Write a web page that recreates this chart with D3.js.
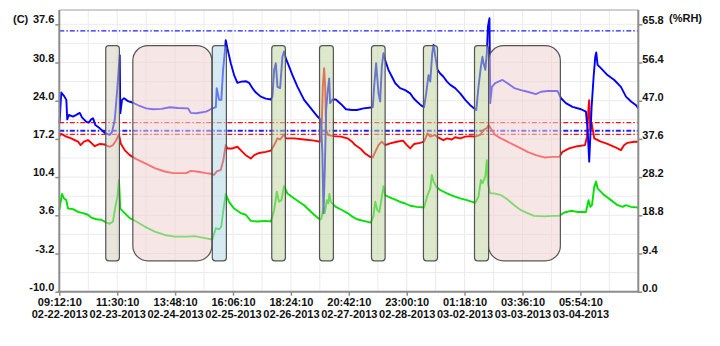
<!DOCTYPE html>
<html><head><meta charset="utf-8">
<script src="https://cdn.jsdelivr.net/npm/d3@7"></script>
<style>
html,body{margin:0;padding:0;background:#fff;}
svg{display:block;font-family:"Liberation Sans",Arial,sans-serif;}
</style></head><body>
<svg id="chart" width="720" height="346"></svg>
<script>
// ---------- DATA ----------
const startTime = Date.UTC(2013, 1, 22, 9, 12, 10);
const spanHours = 263;
const xTickHours = [0, 26.3, 52.6, 78.9, 105.2, 131.5, 157.8, 184.1, 210.4, 236.7];
const tempTicks = [-10.0, -3.2, 3.6, 10.4, 17.2, 24.0, 30.8, 37.6];
const rhTicks = [0.0, 9.4, 18.8, 28.2, 37.6, 47.0, 56.4, 65.8];
const tempAlarms = [20.1, 18.0];
const rhAlarms = [64.2, 39.6];

// [hours since start, value]
const rhSeries = [[0.1,41.4],[0.9,49.0],[2.1,48.2],[3.2,47.2],[3.6,42.4],[4.4,43.5],[6.2,43.1],[7.7,43.5],[9.3,44.0],[10.3,42.9],[12.3,41.8],[13.4,41.6],[14.5,42.4],[15.3,42.7],[16.4,41.0],[18.4,40.2],[20.6,39.1],[22.9,38.6],[24.0,39.4],[25.2,42.3],[26.4,50.4],[27.45,58.2],[27.7,43.9],[28.5,47.2],[29.4,47.6],[31.2,46.9],[33.5,46.5],[36.5,45.7],[39.5,45.1],[42.6,44.9],[46.4,45.0],[50.2,45.4],[53.9,45.2],[58.5,45.1],[59.7,44.0],[62.3,43.9],[66.7,44.3],[68.8,44.9],[71.1,45.4],[71.5,50.1],[72.6,47.2],[73.6,47.2],[74.4,54.6],[75.2,59.1],[75.6,61.9],[76.35,59.9],[77.9,56.2],[79.4,53.3],[80.9,51.4],[82.7,51.7],[84.7,51.8],[86.2,51.4],[87.7,50.1],[89.3,49.0],[91.5,48.0],[93.8,47.5],[96.1,47.3],[96.8,48.0],[97.6,54.6],[98.35,56.2],[99.1,50.4],[100.3,50.1],[101.35,57.8],[102.1,59.1],[102.9,57.4],[104.4,55.4],[105.9,53.3],[108.2,50.4],[111.2,47.2],[114.3,45.1],[117.3,43.1],[118.8,42.3],[119.5,34.1],[120.0,19.3],[120.6,29.9],[121.2,44.7],[121.8,48.8],[122.6,52.5],[123.0,46.4],[124.1,47.3],[125.6,47.3],[127.9,46.2],[130.2,44.9],[133.0,44.7],[135.2,44.7],[138.2,45.1],[142.4,45.4],[143.0,50.4],[143.9,56.2],[145.0,48.8],[145.75,46.8],[146.5,55.4],[147.25,58.7],[148.0,57.0],[149.5,54.6],[151.1,52.9],[152.6,51.3],[154.8,50.1],[157.1,49.6],[159.4,48.8],[160.9,47.6],[162.4,46.8],[164.2,45.9],[165.7,45.4],[166.65,48.8],[167.7,53.3],[168.5,51.7],[169.4,58.7],[170.0,60.7],[170.7,58.2],[171.8,54.6],[173.0,53.7],[174.5,52.9],[176.1,51.7],[177.6,50.9],[179.8,50.1],[182.1,48.8],[184.4,47.2],[186.65,45.9],[188.5,45.1],[189.4,44.7],[190.4,50.4],[191.5,55.4],[192.2,57.8],[192.7,56.2],[193.5,54.6],[194.2,58.7],[194.7,65.2],[195.4,67.3],[195.75,46.4],[196.5,50.4],[198.0,51.3],[201.3,52.1],[203.6,51.3],[206.65,50.1],[209.7,49.6],[212.7,49.2],[216.5,48.6],[218.8,49.2],[221.8,49.4],[226.3,49.4],[227.9,47.6],[230.1,46.4],[233.1,45.5],[237.0,44.9],[239.2,44.3],[240.0,39.8],[240.7,32.0],[241.2,38.1],[241.8,45.5],[242.7,52.9],[243.45,57.8],[243.9,58.9],[244.5,55.8],[246.0,55.0],[249.0,53.3],[252.1,52.1],[255.1,50.4],[257.4,48.0],[259.7,46.8],[262.0,45.9],[263.0,45.1]];

const tempSeries = [[0,17.6],[0.6,18.1],[1.7,17.9],[3.2,17.6],[5.45,17.3],[7.0,17.0],[8.5,16.7],[9.7,16.1],[11.2,16.7],[13.0,17.0],[14.5,16.5],[16.1,15.9],[18.4,16.3],[20.6,16.2],[22.9,15.8],[24.4,16.1],[25.9,17.0],[27.1,18.0],[27.9,16.4],[29.7,15.2],[32.0,14.3],[35.0,13.6],[38.8,12.9],[43.4,12.0],[47.9,11.4],[51.7,11.1],[57.7,11.1],[59.7,11.5],[62.3,11.4],[66.7,11.1],[68.8,11.0],[70.3,10.8],[71.5,11.4],[73.35,11.7],[74.5,13.4],[75.6,16.1],[76.35,15.5],[78.6,15.5],[80.9,15.8],[82.4,15.2],[84.7,14.3],[87.0,13.7],[88.5,14.3],[90.8,14.7],[93.8,14.9],[96.1,15.1],[97.6,16.1],[99.1,17.3],[100.3,17.1],[102.1,18.0],[102.9,17.3],[106.7,17.3],[111.2,17.1],[115.75,16.9],[118.5,16.7],[119.1,18.2],[119.7,26.5],[120.3,29.8],[120.75,26.5],[121.2,18.8],[122.1,17.9],[124.8,17.7],[127.9,17.6],[130.9,17.3],[133.0,16.7],[134.4,16.1],[136.7,15.5],[138.9,14.6],[141.2,14.0],[142.4,13.9],[143.5,14.9],[145.0,16.1],[146.5,16.7],[148.0,16.1],[150.3,16.4],[153.3,16.7],[156.1,16.9],[157.9,16.1],[159.4,15.5],[161.2,16.3],[163.9,16.5],[165.7,16.7],[167.2,18.2],[168.5,17.6],[170.7,17.9],[171.8,17.5],[174.5,17.0],[176.1,17.3],[178.3,17.1],[179.8,17.5],[182.1,17.3],[184.4,17.6],[186.65,17.7],[188.9,17.6],[191.2,17.9],[192.7,18.8],[194.2,19.1],[195.0,19.7],[196.5,18.8],[198.0,17.9],[200.6,17.3],[203.6,16.7],[206.65,16.1],[209.7,15.5],[212.7,14.9],[216.5,14.3],[220.3,13.9],[224.05,14.0],[227.1,14.0],[228.6,14.9],[231.6,15.5],[235.4,15.9],[238.8,16.1],[239.7,17.6],[240.4,22.9],[240.7,24.1],[241.2,18.8],[241.8,20.0],[243.0,17.3],[246.0,16.7],[249.0,16.3],[252.1,15.8],[255.1,15.2],[256.6,16.1],[258.1,16.5],[261.2,16.7],[263.0,16.7]];

const dewSeries = [[0,4.5],[1.2,7.4],[2.1,6.6],[3.2,6.3],[3.95,4.8],[6.2,4.7],[8.5,4.2],[10.8,4.0],[13.0,3.7],[14.5,3.2],[16.8,2.9],[19.1,2.8],[21.4,2.3],[22.9,2.1],[24.4,2.5],[25.45,5.1],[26.4,6.9],[27.1,9.9],[27.7,4.8],[29.7,4.0],[32.0,3.1],[35.0,2.5],[38.8,1.6],[43.4,0.7],[47.9,0.1],[52.4,-0.2],[57.7,-0.2],[61.5,-0.1],[66.7,-0.5],[69.5,-0.7],[71.1,1.3],[72.6,1.1],[73.6,1.6],[74.5,4.5],[75.6,7.4],[77.1,6.0],[79.4,4.8],[82.4,4.0],[84.7,3.7],[87.0,2.6],[90.0,2.5],[93.8,2.6],[96.1,2.5],[97.6,4.5],[98.8,7.8],[99.8,6.0],[100.9,6.3],[102.1,8.8],[103.6,7.5],[106.7,6.6],[111.2,5.4],[115.75,3.7],[118.5,2.8],[119.1,3.1],[120.0,5.1],[120.6,4.0],[121.5,6.3],[122.1,5.7],[122.7,7.4],[123.3,6.0],[125.6,5.1],[128.6,4.5],[130.9,4.0],[133.0,3.4],[135.2,2.9],[138.2,2.6],[141.5,2.3],[142.7,3.4],[143.5,6.0],[144.5,4.5],[145.4,4.2],[146.5,6.9],[147.25,8.8],[148.0,7.2],[149.5,6.9],[152.6,6.4],[154.8,6.0],[157.1,5.7],[159.4,5.3],[162.4,5.1],[165.7,5.0],[167.0,6.9],[168.5,8.4],[169.2,10.8],[170.0,9.6],[171.2,8.7],[173.0,8.1],[176.1,7.5],[179.1,7.0],[182.1,6.6],[185.15,6.3],[188.9,5.8],[190.4,6.9],[191.5,9.9],[192.2,9.3],[193.5,10.5],[194.2,13.4],[194.7,9.3],[195.7,7.5],[197.55,7.5],[200.6,7.2],[203.6,6.4],[206.65,5.4],[209.7,4.5],[212.7,4.0],[215.7,3.5],[220.3,3.4],[224.05,3.5],[227.1,3.5],[229.4,4.1],[232.4,4.4],[235.4,4.2],[239.2,4.2],[240.4,6.3],[241.2,5.1],[241.95,5.4],[243.0,8.7],[243.8,9.6],[244.5,8.4],[247.5,7.2],[250.6,6.3],[253.6,5.4],[255.9,5.1],[257.4,5.4],[259.7,5.1],[263.0,5.0]];

// event windows (hours since start)
const eventStart = [21.1, 33.4, 69.5, 96.5, 118.2, 141.8, 165.4, 188.6, 195.0];
const eventEnd   = [27.3, 69.3, 75.9, 102.7, 124.5, 148.0, 171.8, 195.0, 227.6];
const eventKind  = ["tan", "pink", "blue", "green", "green", "green", "green", "green", "pink"];
const eventTop = 33.8, eventBottom = -4.5;

// ---------- LAYOUT / STYLE ----------
const L = 59.3, R = 638.3, T = 10, B = 291.7, Ytop = 24.3;
const kindStyle = {
  tan:   {fill: "rgb(213,208,191)", r: 3},
  pink:  {fill: "rgb(241,210,210)", r: 15},
  blue:  {fill: "rgb(180,217,231)", r: 3},
  green: {fill: "rgb(193,213,162)", r: 3}
};
const toDate = h => new Date(startTime + h * 3600e3);

const svg = d3.select("#chart");
const x = d3.scaleUtc().domain([toDate(0), toDate(spanHours)]).range([L, R]);
const yT = d3.scaleLinear().domain([-10, 37.6]).range([B, Ytop]);
const yR = d3.scaleLinear().domain([0, 65.8]).range([B, Ytop]);

// grid
const g = svg.append("g");
const gridX = d3.range(0, spanHours + 0.01, 13.15);
g.selectAll("line.gx").data(gridX).join("line")
  .attr("x1", d => x(toDate(d))).attr("x2", d => x(toDate(d)))
  .attr("y1", T).attr("y2", B).attr("stroke", "#ebebeb").attr("stroke-width", 1);
const gridY = d3.range(-10, 37.61, 3.4);
g.selectAll("line.gy").data(gridY).join("line")
  .attr("x1", L).attr("x2", R)
  .attr("y1", d => yT(d)).attr("y2", d => yT(d)).attr("stroke", "#ebebeb").attr("stroke-width", 1);

// alarm lines
const dash = "5,2,1.5,2";
svg.selectAll("line.ta").data(tempAlarms).join("line")
  .attr("x1", L).attr("x2", R).attr("y1", d => yT(d)).attr("y2", d => yT(d))
  .attr("stroke", "#ff1010").attr("stroke-width", 1.3).attr("stroke-dasharray", dash);
svg.selectAll("line.ra").data(rhAlarms).join("line")
  .attr("x1", L).attr("x2", R).attr("y1", d => yR(d)).attr("y2", d => yR(d))
  .attr("stroke", "#2020ff").attr("stroke-width", d => d < 50 ? 1.8 : 1.3).attr("stroke-dasharray", dash);

// series
const lineT = d3.line().x(d => x(toDate(d[0]))).y(d => yT(d[1]));
const lineR = d3.line().x(d => x(toDate(d[0]))).y(d => yR(d[1]));
svg.append("path").datum(dewSeries).attr("d", lineT).attr("fill", "none")
  .attr("stroke", "#00e000").attr("stroke-width", 1.9).attr("stroke-linejoin", "round");
svg.append("path").datum(tempSeries).attr("d", lineT).attr("fill", "none")
  .attr("stroke", "#ff0000").attr("stroke-width", 1.9).attr("stroke-linejoin", "round");
svg.append("path").datum(rhSeries).attr("d", lineR).attr("fill", "none")
  .attr("stroke", "#0000ff").attr("stroke-width", 1.9).attr("stroke-linejoin", "round");

// event boxes
svg.selectAll("rect.ev").data(eventStart).join("rect")
  .attr("x", (d, i) => x(toDate(d)))
  .attr("width", (d, i) => x(toDate(eventEnd[i])) - x(toDate(d)))
  .attr("y", yT(eventTop)).attr("height", yT(eventBottom) - yT(eventTop))
  .attr("rx", (d, i) => kindStyle[eventKind[i]].r)
  .attr("fill", (d, i) => kindStyle[eventKind[i]].fill).attr("fill-opacity", 0.55)
  .attr("stroke", "#555").attr("stroke-width", 1.2);

// frame
svg.append("line").attr("x1", L).attr("x2", R).attr("y1", T).attr("y2", T).attr("stroke", "#a0a0a0").attr("stroke-width", 1);
svg.append("line").attr("x1", L).attr("x2", L).attr("y1", T).attr("y2", B + 1).attr("stroke", "#8c8c8c").attr("stroke-width", 2);
svg.append("line").attr("x1", R).attr("x2", R).attr("y1", T).attr("y2", B + 1).attr("stroke", "#8c8c8c").attr("stroke-width", 2);
svg.append("line").attr("x1", L - 1).attr("x2", R + 1).attr("y1", B).attr("y2", B).attr("stroke", "#8c8c8c").attr("stroke-width", 2);

// axes
const fmt = d => d.toFixed(1);
const axL = svg.append("g").attr("transform", `translate(${L},0)`)
  .call(d3.axisLeft(yT).tickValues(tempTicks).tickFormat(fmt).tickSize(4));
const axR = svg.append("g").attr("transform", `translate(${R},0)`)
  .call(d3.axisRight(yR).tickValues(rhTicks).tickFormat(fmt).tickSize(4));
const axB = svg.append("g").attr("transform", `translate(0,${B})`)
  .call(d3.axisBottom(x).tickValues(xTickHours.map(toDate)).tickSize(4));
[axL, axR, axB].forEach(a => {
  a.select(".domain").remove();
  a.selectAll(".tick line").attr("stroke", "#8c8c8c").attr("stroke-width", 1.5);
  a.selectAll("text").attr("fill", "#111").attr("font-size", 11).attr("font-weight", "bold")
    .attr("font-family", "'Liberation Sans', Arial, sans-serif");
});
axL.selectAll(".tick text").attr("x", -5).attr("dy", null).attr("y", -1.5);
axR.selectAll(".tick text").attr("x", 4).attr("dy", null).attr("y", -0.5);
const fTime = d3.utcFormat("%H:%M:%S"), fDate = d3.utcFormat("%m-%d-%Y");
axB.selectAll(".tick text").each(function(d) {
  const t = d3.select(this).text("").attr("dy", null).attr("y", null);
  t.append("tspan").attr("x", 0).attr("y", 14.5).text(fTime(d));
  t.append("tspan").attr("x", 0).attr("y", 26.5).text(fDate(d));
});

// unit labels
svg.append("text").attr("x", 13).attr("y", 22.5).text("(C)")
  .attr("font-size", 11).attr("font-weight", "bold").attr("fill", "#111");
svg.append("text").attr("x", 669).attr("y", 21.5).text("(%RH)")
  .attr("font-size", 11).attr("font-weight", "bold").attr("fill", "#111");
</script>
</body></html>
